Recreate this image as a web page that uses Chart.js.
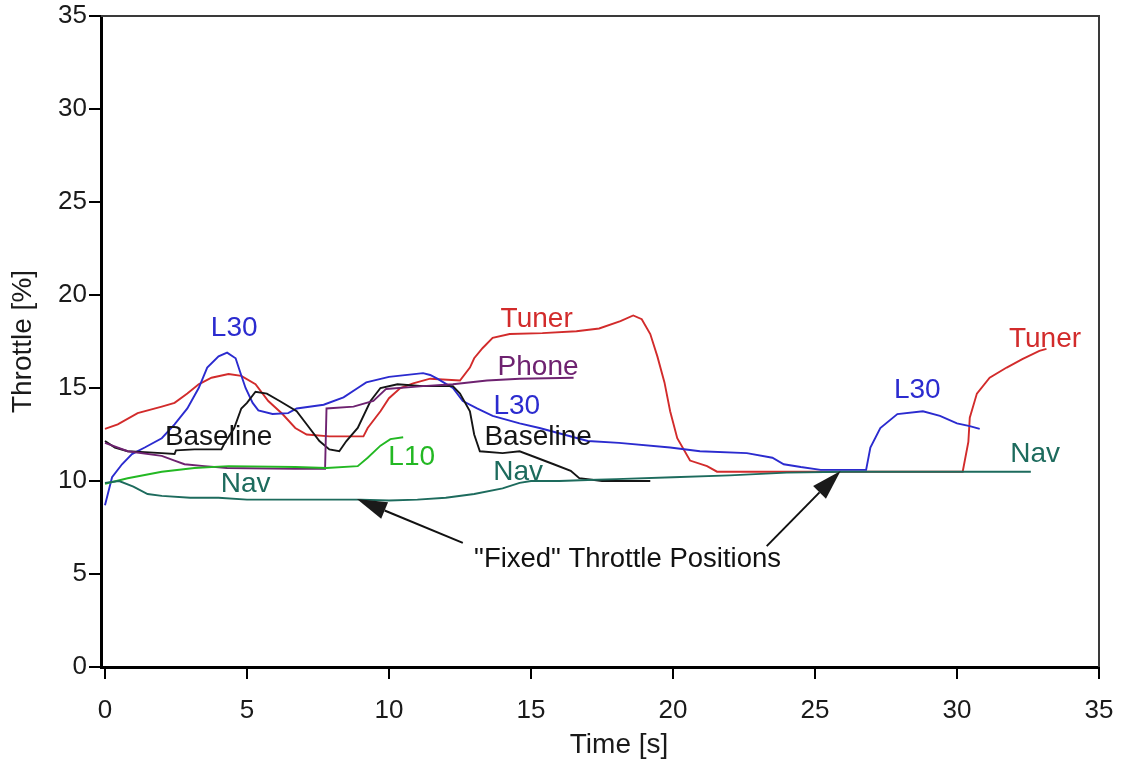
<!DOCTYPE html>
<html>
<head>
<meta charset="utf-8">
<title>Throttle</title>
<script src="https://cdn.jsdelivr.net/npm/chart.js@4.4.0/dist/chart.umd.min.js"></script>
<style>
html, body { margin:0; padding:0; background:#fff; }
#throttleChart { display:block; }
</style>
</head>
<body>
<canvas id="throttleChart" width="1125" height="762" style="width:1125px;height:762px"></canvas>
<script>
// tick values
const X_TICKS = [0, 5, 10, 15, 20, 25, 30, 35];
const Y_TICKS = [0, 5, 10, 15, 20, 25, 30, 35];
const X_TITLE = "Time [s]";

// series: time [s] / throttle [%]
const l30T = [0, 0.25, 0.6, 0.95, 1.4, 2.0, 2.45, 2.9, 3.3, 3.6, 4.0, 4.3, 4.6, 4.75, 4.95, 5.2, 5.4, 5.9, 6.45, 6.75, 7.7, 8.4, 8.9, 9.2, 10.0, 11.2, 11.45, 11.7, 12.25, 12.6, 13.1, 13.65, 14.6, 15.3, 17.0, 18.1, 19.9, 20.95, 22.6, 23.5, 23.9, 24.5, 25.2, 26.8, 26.95, 27.3, 27.9, 28.8, 29.4, 30.0, 30.45, 30.8];
const l30V = [8.7, 10.2, 10.9, 11.45, 11.8, 12.3, 13.05, 13.9, 15.0, 16.1, 16.7, 16.9, 16.6, 15.9, 15.0, 14.2, 13.8, 13.6, 13.65, 13.9, 14.1, 14.5, 15.0, 15.3, 15.6, 15.8, 15.7, 15.5, 15.0, 14.3, 13.9, 13.5, 13.1, 12.85, 12.15, 12.05, 11.8, 11.6, 11.5, 11.25, 10.9, 10.75, 10.6, 10.6, 11.8, 12.85, 13.6, 13.75, 13.5, 13.1, 12.95, 12.8];

const tunerT = [0, 0.45, 1.15, 2.0, 2.45, 2.9, 3.3, 3.75, 4.35, 4.8, 5.3, 5.75, 6.25, 6.7, 7.1, 7.9, 9.1, 9.25, 9.7, 10.0, 10.4, 10.85, 11.45, 12.5, 12.85, 13.0, 13.3, 13.65, 14.25, 15.4, 16.6, 17.4, 18.15, 18.6, 18.9, 19.2, 19.45, 19.7, 19.9, 20.15, 20.6, 21.2, 21.55, 30.2, 30.4, 30.45, 30.7, 31.15, 31.75, 32.3, 32.9, 33.15];
const tunerV = [12.8, 13.05, 13.65, 14.0, 14.2, 14.7, 15.2, 15.55, 15.75, 15.65, 15.2, 14.3, 13.6, 12.85, 12.5, 12.4, 12.4, 12.85, 13.75, 14.45, 15.0, 15.25, 15.5, 15.4, 16.1, 16.6, 17.15, 17.7, 17.9, 17.95, 18.05, 18.2, 18.6, 18.9, 18.7, 17.9, 16.7, 15.3, 13.75, 12.3, 11.1, 10.8, 10.5, 10.5, 12.1, 13.4, 14.7, 15.55, 16.1, 16.55, 17.0, 17.1];

const baseT = [0, 0.35, 0.8, 2.0, 2.45, 2.5, 3.15, 4.1, 4.2, 4.55, 4.8, 5.0, 5.3, 5.7, 6.15, 6.75, 7.1, 7.55, 7.9, 8.25, 8.5, 8.9, 9.35, 9.7, 10.3, 11.2, 12.25, 12.5, 12.85, 13.0, 13.2, 14.0, 14.6, 15.2, 15.8, 16.4, 16.7, 17.5, 19.2];
const baseV = [12.15, 11.8, 11.6, 11.5, 11.45, 11.65, 11.7, 11.7, 12.0, 12.85, 13.9, 14.2, 14.8, 14.7, 14.3, 13.75, 13.05, 12.15, 11.7, 11.6, 12.15, 12.85, 14.3, 15.0, 15.2, 15.1, 15.1, 14.7, 13.75, 12.5, 11.6, 11.5, 11.6, 11.25, 10.9, 10.55, 10.15, 10.0, 10.0];

const phoneT = [0, 0.8, 2.0, 2.45, 2.8, 3.5, 4.3, 6.7, 7.75, 7.8, 8.75, 9.45, 9.9, 11.2, 12.25, 13.45, 14.6, 16.5];
const phoneV = [12.05, 11.6, 11.35, 11.1, 10.9, 10.8, 10.7, 10.65, 10.65, 13.9, 14.0, 14.3, 14.95, 15.1, 15.2, 15.4, 15.5, 15.55];

const l10T = [0, 0.8, 2.0, 3.15, 4.35, 6.7, 7.8, 8.9, 9.25, 9.7, 10.05, 10.5];
const l10V = [9.85, 10.15, 10.5, 10.7, 10.8, 10.75, 10.7, 10.8, 11.25, 11.9, 12.25, 12.35];

const navT = [0, 0.5, 1.0, 1.5, 2, 3, 4, 5, 6, 7, 8, 9, 10, 11, 12, 13, 14, 14.6, 15, 16, 17, 18, 20, 22, 24, 26, 28, 30, 32.6];
const navV = [9.9, 10.0, 9.7, 9.3, 9.2, 9.1, 9.1, 9.0, 9.0, 9.0, 9.0, 9.0, 8.95, 9.0, 9.1, 9.3, 9.6, 9.9, 10.0, 10.0, 10.05, 10.1, 10.2, 10.3, 10.45, 10.5, 10.5, 10.5, 10.5];

// in-plot labels, anchored in data units
const labelText = ["L30", "Tuner", "Phone", "L30", "Baseline", "Baseline", "L10", "Nav", "Nav", "L30", "Tuner", "Nav"];
const labelT    = [4.55, 15.2, 15.25, 14.5, 4.0, 15.25, 10.8, 4.95, 14.55, 28.6, 33.1, 32.75];
const labelV    = [18.2, 18.7, 16.1, 14.0, 12.35, 12.35, 11.25, 9.85, 10.45, 14.9, 17.6, 11.45];
const labelKey  = ["l30", "tuner", "phone", "l30", "base", "base", "l10", "nav", "nav", "l30", "tuner", "nav"];

// callout arrows (tail -> tip)
const NOTE_TEXT = '"Fixed" Throttle Positions';
const noteT = 18.4, noteV = 5.8;
const arrowFromT = [12.6, 23.3];
const arrowFromV = [6.67, 6.5];
const arrowToT   = [8.87, 25.9];
const arrowToV   = [9.03, 10.54];

const COLORS = {
    l30: "#2b2bcf",
    tuner: "#d22b2b",
    phone: "#6e2270",
    base: "#151515",
    l10: "#23b823",
    nav: "#1d6b5d"
};

const FONT = "'Liberation Sans', Arial, sans-serif";

function pts(ts, vs) {
    return ts.map((t, i) => ({ x: t, y: vs[i] }));
}

function series(label, ts, vs, key) {
    return {
        label: label,
        data: pts(ts, vs),
        borderColor: COLORS[key],
        borderWidth: 1.9,
        pointRadius: 0,
        tension: 0,
        fill: false
    };
}

/* frame, labels and arrows */
const overlay = {
    id: "overlay",
    afterDatasetsDraw(chart) {
        const { ctx, chartArea: a, scales: { x, y } } = chart;
        ctx.save();

        // top + right frame lines
        ctx.strokeStyle = "#3a3a3a";
        ctx.lineWidth = 2;
        ctx.beginPath();
        ctx.moveTo(a.left, a.top);
        ctx.lineTo(a.right, a.top);
        ctx.lineTo(a.right, a.bottom);
        ctx.stroke();

        ctx.font = "28px " + FONT;
        ctx.textAlign = "center";
        ctx.textBaseline = "middle";
        labelText.forEach((txt, i) => {
            ctx.fillStyle = COLORS[labelKey[i]];
            ctx.fillText(txt, x.getPixelForValue(labelT[i]), y.getPixelForValue(labelV[i]));
        });

        ctx.fillStyle = "#111";
        ctx.font = "27.5px " + FONT;
        ctx.fillText(NOTE_TEXT, x.getPixelForValue(noteT), y.getPixelForValue(noteV));

        // x axis title sits a bit right of centre in the original
        ctx.fillStyle = "#1a1a1a";
        ctx.font = "28px " + FONT;
        ctx.fillText(X_TITLE, x.getPixelForValue(18.1), 745);

        // arrows
        ctx.strokeStyle = "#111";
        ctx.lineWidth = 2;
        arrowFromT.forEach((_, i) => {
            const x0 = x.getPixelForValue(arrowFromT[i]);
            const y0 = y.getPixelForValue(arrowFromV[i]);
            const x1 = x.getPixelForValue(arrowToT[i]);
            const y1 = y.getPixelForValue(arrowToV[i]);
            const ang = Math.atan2(y1 - y0, x1 - x0);
            const len = 30, half = 9;
            const bx = x1 - len * Math.cos(ang), by = y1 - len * Math.sin(ang);
            ctx.beginPath();
            ctx.moveTo(x0, y0);
            ctx.lineTo(bx, by);
            ctx.stroke();
            ctx.beginPath();
            ctx.moveTo(x1, y1);
            ctx.lineTo(bx + half * Math.sin(ang), by - half * Math.cos(ang));
            ctx.lineTo(bx - half * Math.sin(ang), by + half * Math.cos(ang));
            ctx.closePath();
            ctx.fill();
        });

        ctx.restore();
    }
};

new Chart(document.getElementById("throttleChart"), {
    type: "line",
    data: {
        datasets: [
            series("Nav", navT, navV, "nav"),
            series("L10", l10T, l10V, "l10"),
            series("Phone", phoneT, phoneV, "phone"),
            series("Baseline", baseT, baseV, "base"),
            series("L30", l30T, l30V, "l30"),
            series("Tuner", tunerT, tunerV, "tuner")
        ]
    },
    options: {
        responsive: false,
        animation: false,
        layout: { padding: { top: 16, right: 26, left: 0, bottom: 0 } },
        plugins: {
            legend: { display: false },
            tooltip: { enabled: false }
        },
        scales: {
            x: {
                type: "linear",
                min: -0.14,
                max: 35,
                afterBuildTicks: s => { s.ticks = X_TICKS.map(v => ({ value: v })); },
                afterFit: s => { s.height = 95; s.paddingLeft = 0; s.paddingRight = 0; },
                border: { display: true, color: "#000", width: 3 },
                grid: { display: true, drawOnChartArea: false, drawTicks: true, tickLength: 12, color: "#000", lineWidth: 2 },
                ticks: { color: "#1a1a1a", font: { family: FONT, size: 26 }, padding: 16, maxRotation: 0 },
                title: { display: false }
            },
            y: {
                type: "linear",
                min: 0,
                max: 35,
                afterBuildTicks: s => { s.ticks = Y_TICKS.map(v => ({ value: v })); },
                afterFit: s => { s.width = 101; s.paddingTop = 0; s.paddingBottom = 0; },
                border: { display: true, color: "#000", width: 3 },
                grid: { display: true, drawOnChartArea: false, drawTicks: true, tickLength: 12, color: "#000", lineWidth: 2 },
                ticks: { color: "#1a1a1a", font: { family: FONT, size: 26 }, padding: 2 },
                title: { display: true, text: "Throttle [%]", color: "#1a1a1a", font: { family: FONT, size: 28 }, padding: { top: 6, bottom: 0 } }
            }
        }
    },
    plugins: [overlay]
});
</script>
</body>
</html>
